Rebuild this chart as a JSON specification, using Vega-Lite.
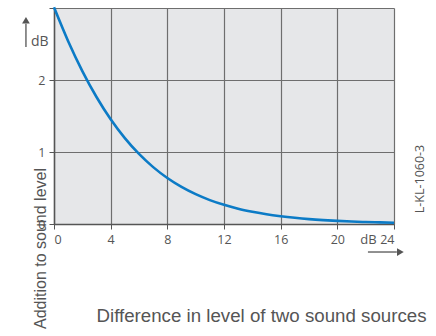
{
  "$schema": "https://vega.github.io/schema/vega-lite/v6.json",
  "autosize": {"type": "none"},
  "width": 340,
  "height": 216,
  "padding": {"left": 54, "top": 8, "right": 42, "bottom": 112},
  "background": "white",
  "config": {
    "view": {"fill": "#e6e7e9", "stroke": null},
    "axis": {
      "labelFont": "Open Sans", "labelFontSize": 12.5, "labelColor": "#555",
      "titleFont": "Liberation Sans", "titleFontWeight": "normal", "titleColor": "#555",
      "gridColor": "#6e6e6e", "gridWidth": 1.2, "gridOpacity": 1,
      "domainColor": "#555", "domainWidth": 1.5, "tickColor": "#555", "tickSize": 5, "tickWidth": 1
    }
  },
  "datasets": {
    "curve": [
      {"L": 0, "add": 3.01}, {"L": 1, "add": 2.539}, {"L": 2, "add": 2.124}, {"L": 3, "add": 1.764},
      {"L": 4, "add": 1.455}, {"L": 5, "add": 1.193}, {"L": 6, "add": 0.973}, {"L": 7, "add": 0.79},
      {"L": 8, "add": 0.639}, {"L": 9, "add": 0.515}, {"L": 10, "add": 0.414}, {"L": 11, "add": 0.332},
      {"L": 12, "add": 0.266}, {"L": 13, "add": 0.212}, {"L": 14, "add": 0.17}, {"L": 15, "add": 0.135},
      {"L": 16, "add": 0.108}, {"L": 17, "add": 0.086}, {"L": 18, "add": 0.068}, {"L": 19, "add": 0.054},
      {"L": 20, "add": 0.043}, {"L": 21, "add": 0.034}, {"L": 22, "add": 0.027}, {"L": 23, "add": 0.022},
      {"L": 24, "add": 0.017}
    ],
    "labels": [
      {"x": -1.0, "y": 2.53, "text": "dB", "angle": 0, "size": 14},
      {"x": 22.2, "y": -0.222, "text": "dB", "angle": 0, "size": 13},
      {"x": 25.83, "y": 0.625, "text": "L-KL-1060-3", "angle": 270, "size": 12.5}
    ],
    "arrows": [
      {"x": -1.98, "y": 2.46, "x2": -1.98, "y2": 2.78},
      {"x": 22.16, "y": -0.389, "x2": 24.2, "y2": -0.389}
    ],
    "heads": [
      {"x": -1.98, "y": 2.83, "shape": "triangle-up"},
      {"x": 24.45, "y": -0.389, "shape": "triangle-right"}
    ]
  },
  "layer": [
    {
      "data": {"name": "curve"},
      "mark": {"type": "line", "color": "#0c7bc6", "strokeWidth": 2.6, "interpolate": "monotone", "clip": false},
      "encoding": {
        "x": {
          "field": "L", "type": "quantitative",
          "scale": {"domain": [0, 24], "nice": false, "zero": false},
          "axis": {
            "values": [0, 4, 8, 12, 16, 20, 24], "grid": true, "labelPadding": 4, "format": "d",
            "title": "Difference in level of two sound sources", "titleFontSize": 18.7,
            "titleX": 207, "titleY": 91, "titleAlign": "center", "titleBaseline": "middle", "titleAnchor": null
          }
        },
        "y": {
          "field": "add", "type": "quantitative",
          "scale": {"domain": [0, 3], "nice": false, "zero": false},
          "axis": {
            "values": [0, 1, 2, 3], "grid": true, "labelPadding": 4, "format": "d",
            "labelExpr": "datum.value == 3 ? '' : datum.label",
            "title": "Addition to sound level", "titleFontSize": 16,
            "titleX": -14, "titleY": 240, "titleAngle": 270, "titleAlign": "center", "titleBaseline": "middle", "titleAnchor": null
          }
        }
      }
    },
    {
      "data": {"name": "labels"},
      "mark": {"type": "text", "font": "Open Sans", "color": "#555", "align": "center", "baseline": "middle"},
      "encoding": {
        "x": {"field": "x", "type": "quantitative"},
        "y": {"field": "y", "type": "quantitative"},
        "text": {"field": "text"},
        "angle": {"field": "angle", "type": "quantitative", "scale": null},
        "size": {"field": "size", "type": "quantitative", "scale": null}
      }
    },
    {
      "data": {"name": "arrows"},
      "mark": {"type": "rule", "color": "#555", "strokeWidth": 1.3},
      "encoding": {
        "x": {"field": "x", "type": "quantitative"},
        "y": {"field": "y", "type": "quantitative"},
        "x2": {"field": "x2"},
        "y2": {"field": "y2"}
      }
    },
    {
      "data": {"name": "heads"},
      "mark": {"type": "point", "filled": true, "color": "#555", "size": 60, "opacity": 1},
      "encoding": {
        "x": {"field": "x", "type": "quantitative"},
        "y": {"field": "y", "type": "quantitative"},
        "shape": {"field": "shape", "type": "nominal", "scale": null}
      }
    }
  ]
}
